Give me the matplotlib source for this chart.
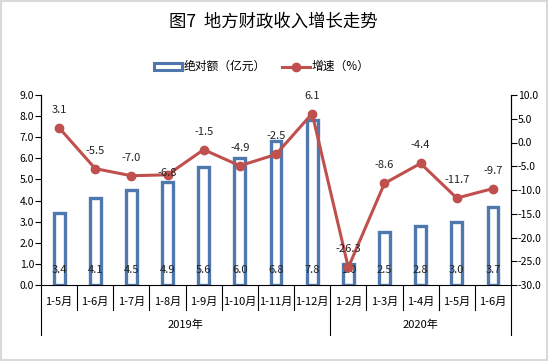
import matplotlib
matplotlib.use("Agg")
import matplotlib.pyplot as plt
import matplotlib.transforms as mtransforms
from matplotlib.patches import Rectangle
from matplotlib.lines import Line2D

plt.rcParams['font.family'] = ['Noto Sans CJK SC', 'DejaVu Sans']

categories = ['1-5月', '1-6月', '1-7月', '1-8月', '1-9月', '1-10月', '1-11月', '1-12月',
              '1-2月', '1-3月', '1-4月', '1-5月', '1-6月']
years = ['2019年', '2020年']
year_counts = [8, 5]
amounts = [3.4, 4.1, 4.5, 4.9, 5.6, 6.0, 6.8, 7.8, 1.0, 2.5, 2.8, 3.0, 3.7]
growth = [3.1, -5.5, -7.0, -6.8, -1.5, -4.9, -2.5, 6.1, -26.3, -8.6, -4.4, -11.7, -9.7]
left_ticks = [0.0, 1.0, 2.0, 3.0, 4.0, 5.0, 6.0, 7.0, 8.0, 9.0]
right_ticks = [-30.0, -25.0, -20.0, -15.0, -10.0, -5.0, 0.0, 5.0, 10.0]

BLUE = '#4F79AE'
RED = '#C0504D'

W, H = 549, 361
fig = plt.figure(figsize=(W / 100, H / 100), dpi=100)
fig.patch.set_facecolor('white')
# outer border
fig.add_artist(Rectangle((0.002, 0.003), 0.995, 0.993, transform=fig.transFigure,
                         fill=False, edgecolor='#D9D9D9', linewidth=1.5))

ax = fig.add_axes([41 / W, (H - 285) / H, (511 - 41) / W, 190 / H])
ax2 = ax.twinx()
n = len(categories)
x = list(range(n))

ax.bar(x, amounts, width=0.3, facecolor='white', edgecolor=BLUE, linewidth=2.4, zorder=2)
ax.set_ylim(0, 9)
ax.set_xlim(-0.5, n - 0.5)
ax.set_yticks(left_ticks)
ax.set_yticklabels([f'{v:.1f}' for v in left_ticks], fontsize=7.5)
ax.set_xticks([])

ax2.plot(x, growth, color=RED, linewidth=2.2, marker='o', markersize=6, zorder=3)
ax2.set_ylim(-30, 10)
ax2.set_yticks(right_ticks)
ax2.set_yticklabels([f'{v:.1f}' for v in right_ticks], fontsize=7.5)

for a in (ax, ax2):
    a.tick_params(axis='y', direction='out', length=4, width=0.8, pad=1, colors='black')
    a.spines['top'].set_visible(False)
    for s in ('left', 'right', 'bottom'):
        a.spines[s].set_linewidth(0.8)
        a.spines[s].set_color('black')
ax2.spines['bottom'].set_visible(False)

# bar value labels near bottom
trans_bar = mtransforms.blended_transform_factory(ax.transData, ax.transAxes)
for xi, v in zip(x, amounts):
    ax.text(xi, 15 / 190, f'{v:.1f}', transform=trans_bar, ha='center', va='center',
            fontsize=8, color='#222222', zorder=5)

# growth labels
for xi, v in zip(x, growth):
    off = 18 if v != -6.8 else 2
    ax2.annotate(f'{v:.1f}', (xi, v), xytext=(0, off), textcoords='offset pixels',
                 ha='center', va='center', fontsize=8, color='#222222', zorder=6)

# category axis with grouped labels
trans = mtransforms.blended_transform_factory(ax.transData, ax.transAxes)
for xi, c in zip(x, categories):
    ax.text(xi, -17 / 190, c, transform=trans, ha='center', va='center', fontsize=8)
boundaries = [-0.5]
acc = -0.5
for cnt in year_counts:
    acc += cnt
    boundaries.append(acc)
for i in range(1, n):
    b = i - 0.5
    if b in boundaries:
        continue
    ax.add_line(Line2D([b, b], [0, -25 / 190], transform=trans, color='black',
                       linewidth=0.8, clip_on=False))
for b in boundaries:
    ax.add_line(Line2D([b, b], [0, -50 / 190], transform=trans, color='black',
                       linewidth=0.8, clip_on=False))
for i, yname in enumerate(years):
    mid = (boundaries[i] + boundaries[i + 1]) / 2
    ax.text(mid, -40 / 190, yname, transform=trans, ha='center', va='center', fontsize=8)

# title
fig.text(273 / W, 1 - 22 / H, '图7  地方财政收入增长走势', ha='center', va='center', fontsize=12.5)

# legend
fig.add_artist(Rectangle((154 / W, 1 - 70 / H), 28 / W, 7 / H, transform=fig.transFigure,
                         facecolor='white', edgecolor=BLUE, linewidth=2.2))
fig.text(184 / W, 1 - 66.5 / H, '绝对额（亿元）', ha='left', va='center', fontsize=8.5)
fig.add_artist(Line2D([282 / W, 310 / W], [1 - 66.5 / H, 1 - 66.5 / H], transform=fig.transFigure,
                      color=RED, linewidth=2.2))
fig.add_artist(Line2D([296 / W], [1 - 66.5 / H], transform=fig.transFigure, color=RED,
                      marker='o', markersize=6))
fig.text(312 / W, 1 - 66.5 / H, '增速（%）', ha='left', va='center', fontsize=8.5)

fig.savefig('out.png', dpi=100)
